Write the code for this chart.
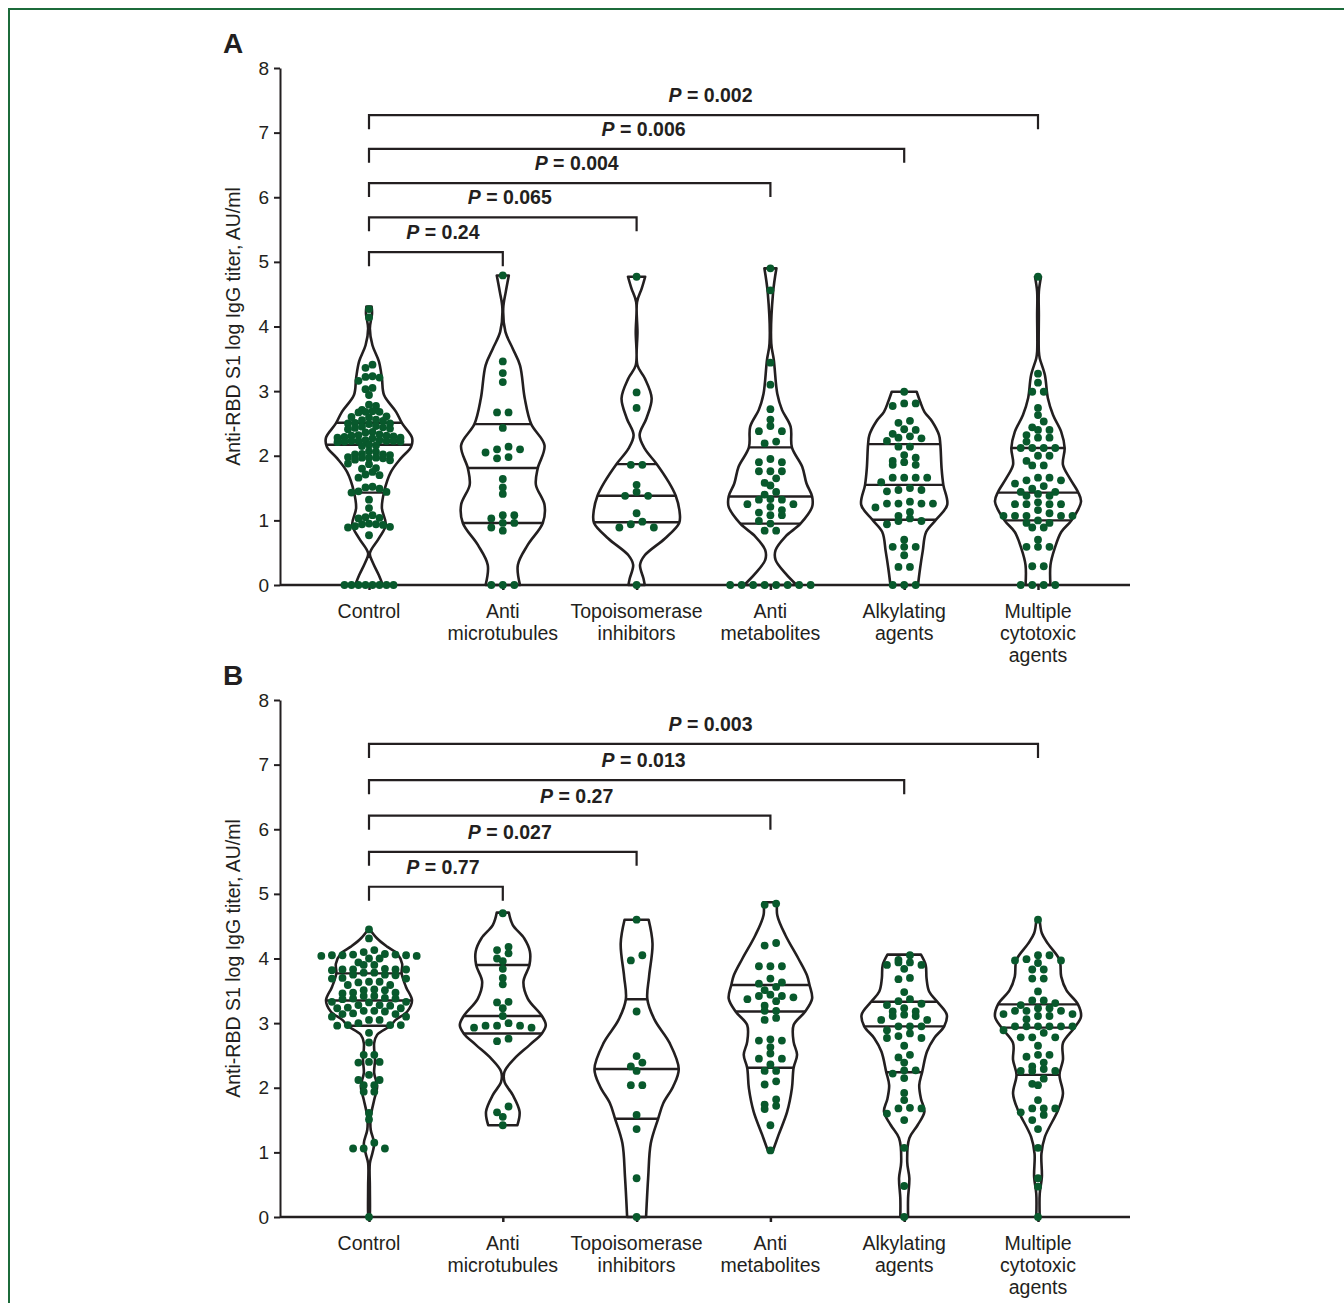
<!DOCTYPE html>
<html>
<head>
<meta charset="utf-8">
<script src="https://cdn.jsdelivr.net/npm/d3@7"></script>
<style>
  body { margin: 0; background: #fff; }
  text { font-family: 'Liberation Sans', Arial, sans-serif; fill: #231f20; }
</style>
</head>
<body>
<div id="chart"></div>
<script>
var width = 1344
var height = 1303

var groups = ['Control', 'Anti microtubules', 'Topoisomerase inhibitors', 'Anti metabolites', 'Alkylating agents', 'Multiple cytotoxic agents']
var groupLines = [['Control'], ['Anti', 'microtubules'], ['Topoisomerase', 'inhibitors'], ['Anti', 'metabolites'], ['Alkylating', 'agents'], ['Multiple', 'cytotoxic', 'agents']]
var yTicks = [0, 1, 2, 3, 4, 5, 6, 7, 8]
var yLabel = 'Anti-RBD S1 log IgG titer, AU/ml'

// ---- panel A: dot values per group ----
var dotsA = [
  [4.27, 4.14, 3.41, 3.36, 3.22, 3.21, 3.23, 3.16, 3.05, 3.03, 2.94, 2.79, 2.77, 2.71, 2.68, 2.67, 2.69, 2.68, 2.60, 2.61, 2.59, 2.55, 2.56, 2.54, 2.50, 2.51, 2.49, 2.50, 2.45, 2.46, 2.44, 2.42, 2.41, 2.43, 2.37, 2.36, 2.31, 2.32, 2.30, 2.31, 2.33, 2.28, 2.27, 2.29, 2.28, 2.23, 2.22, 2.24, 2.23, 2.21, 2.23, 2.24, 2.22, 2.23, 2.16, 2.15, 2.17, 2.06, 2.07, 2.02, 2.01, 2.03, 2.02, 1.97, 1.98, 1.96, 1.97, 1.97, 1.94, 1.93, 1.88, 1.87, 1.81, 1.80, 1.75, 1.70, 1.71, 1.66, 1.52, 1.51, 1.49, 1.44, 1.43, 1.45, 1.32, 1.19, 1.08, 1.04, 1.03, 1.05, 0.94, 0.93, 0.95, 0.94, 0.90, 0.89, 0.91, 0.77, 0, 0, 0, 0, 0, 0, 0, 0],
  [4.79, 3.46, 3.28, 3.14, 2.67, 2.67, 2.43, 2.14, 2.10, 2.10, 2.05, 1.98, 1.96, 1.64, 1.51, 1.41, 1.08, 1.08, 1.03, 0.96, 0.96, 0.89, 0.84, 0, 0, 0],
  [4.77, 2.98, 2.74, 1.86, 1.86, 1.55, 1.44, 1.38, 1.38, 1.11, 0.98, 0.94, 0.89, 0.89, 0],
  [4.90, 4.56, 3.44, 3.10, 2.72, 2.56, 2.46, 2.38, 2.38, 2.22, 2.19, 1.95, 1.90, 1.90, 1.76, 1.76, 1.76, 1.65, 1.58, 1.54, 1.44, 1.40, 1.33, 1.32, 1.32, 1.25, 1.25, 1.21, 1.16, 1.12, 1.08, 1.08, 0.99, 0.95, 0.84, 0.84, 0, 0, 0, 0, 0, 0, 0, 0],
  [2.99, 2.81, 2.81, 2.77, 2.54, 2.51, 2.41, 2.40, 2.34, 2.30, 2.27, 2.28, 2.23, 2.14, 2.14, 2.01, 1.97, 1.92, 1.90, 1.86, 1.86, 1.66, 1.66, 1.66, 1.66, 1.59, 1.50, 1.47, 1.47, 1.45, 1.29, 1.26, 1.26, 1.26, 1.26, 1.20, 1.13, 1.07, 1.03, 0.99, 0.99, 0.94, 0.70, 0.59, 0.59, 0.59, 0.46, 0.28, 0.28, 0, 0, 0],
  [4.77, 3.27, 3.13, 2.99, 2.99, 2.74, 2.63, 2.53, 2.44, 2.40, 2.40, 2.32, 2.28, 2.28, 2.22, 2.12, 2.12, 2.12, 2.12, 2.00, 2.00, 1.92, 1.85, 1.85, 1.66, 1.66, 1.62, 1.62, 1.57, 1.53, 1.49, 1.44, 1.44, 1.41, 1.38, 1.38, 1.28, 1.25, 1.25, 1.25, 1.25, 1.16, 1.11, 1.07, 1.07, 1.07, 1.07, 1.07, 1.00, 0.96, 0.96, 0.89, 0.89, 0.70, 0.59, 0.59, 0.59, 0.29, 0.29, 0, 0, 0, 0]
]

// violin outline: [value, relative density]
var outlineA = [
  [[4.31, 0.06], [4.2, 0.07], [3.97, 0.02], [3.71, 0.08], [3.46, 0.23], [3.2, 0.3], [2.94, 0.35], [2.68, 0.63], [2.5, 0.77], [2.28, 1.0], [2.14, 0.98], [1.96, 0.74], [1.75, 0.51], [1.44, 0.35], [1.19, 0.3], [0.93, 0.39], [0.72, 0.23], [0.49, 0.02], [0.36, 0.08], [0.15, 0.23], [0, 0.32]],
  [[4.79, 0.14], [4.54, 0.07], [4.28, 0.01], [3.92, 0.06], [3.66, 0.23], [3.4, 0.4], [2.89, 0.51], [2.49, 0.66], [2.16, 0.97], [1.8, 0.81], [1.55, 0.77], [1.24, 0.97], [0.96, 0.93], [0.62, 0.58], [0.31, 0.35], [0, 0.4]],
  [[4.77, 0.2], [4.59, 0.12], [4.38, 0.01], [3.92, 0.02], [3.4, 0.02], [3.2, 0.19], [2.89, 0.35], [2.58, 0.23], [2.32, 0.07], [2.11, 0.19], [1.87, 0.47], [1.6, 0.74], [1.38, 0.91], [1.13, 1.0], [0.96, 0.99], [0.72, 0.66], [0.46, 0.19], [0.31, 0.08], [0.1, 0.16], [0, 0.19]],
  [[4.9, 0.14], [4.51, 0.06], [3.74, 0.02], [3.48, 0.08], [2.96, 0.16], [2.71, 0.27], [2.45, 0.47], [2.13, 0.5], [1.83, 0.74], [1.57, 0.84], [1.37, 0.97], [1.21, 0.97], [0.95, 0.7], [0.75, 0.35], [0.54, 0.12], [0.39, 0.12], [0.18, 0.35], [0, 0.61]],
  [[2.99, 0.29], [2.84, 0.37], [2.68, 0.47], [2.53, 0.65], [2.32, 0.81], [2.18, 0.84], [1.8, 0.87], [1.55, 0.91], [1.24, 1.0], [1.01, 0.74], [0.82, 0.51], [0.52, 0.43], [0.26, 0.37], [0, 0.32]],
  [[4.77, 0.07], [4.54, 0.02], [4.18, 0.02], [3.61, 0.02], [3.51, 0.04], [3.25, 0.16], [2.89, 0.23], [2.63, 0.35], [2.37, 0.54], [2.12, 0.62], [1.86, 0.58], [1.65, 0.74], [1.44, 0.93], [1.29, 1.0], [1.0, 0.78], [0.82, 0.54], [0.57, 0.39], [0.31, 0.29], [0, 0.29]]
]

// Q1, median, Q3
var quartA = [[1.43, 2.17, 2.51], [0.96, 1.81, 2.49], [0.97, 1.38, 1.87], [0.95, 1.37, 2.13], [1.01, 1.55, 2.18], [1.00, 1.43, 2.12]]
var pValsA = ['0.24', '0.065', '0.004', '0.006', '0.002']
var bracketLevelsA = [5.15, 5.69, 6.22, 6.75, 7.27]

// ---- panel B ----
var dotsB = [
  [4.45, 4.31, 4.13, 4.10, 4.07, 4.05, 4.06, 4.04, 4.05, 4.05, 4.06, 4.04, 4.00, 4.00, 3.94, 3.90, 3.90, 3.83, 3.83, 3.84, 3.82, 3.83, 3.83, 3.78, 3.78, 3.75, 3.75, 3.74, 3.69, 3.69, 3.70, 3.64, 3.64, 3.63, 3.59, 3.59, 3.51, 3.51, 3.52, 3.47, 3.47, 3.46, 3.42, 3.42, 3.38, 3.38, 3.39, 3.37, 3.33, 3.33, 3.32, 3.28, 3.28, 3.27, 3.23, 3.23, 3.24, 3.19, 3.19, 3.18, 3.14, 3.14, 3.15, 3.10, 3.10, 3.05, 3.05, 3.00, 2.97, 2.97, 2.96, 2.97, 2.85, 2.70, 2.51, 2.51, 2.40, 2.40, 2.39, 2.20, 2.12, 2.12, 2.04, 2.04, 1.94, 1.94, 1.61, 1.51, 1.15, 1.06, 1.06, 1.06, 0],
  [4.70, 4.18, 4.13, 4.08, 4.00, 3.96, 3.84, 3.70, 3.60, 3.33, 3.32, 3.23, 3.11, 3.00, 2.96, 2.96, 2.96, 2.93, 2.93, 2.76, 2.72, 1.71, 1.62, 1.55, 1.42],
  [4.60, 4.05, 3.97, 3.18, 2.49, 2.39, 2.33, 2.26, 2.04, 2.04, 1.58, 1.36, 0.60, 0],
  [4.85, 4.83, 4.24, 4.20, 3.88, 3.88, 3.88, 3.69, 3.63, 3.61, 3.56, 3.51, 3.44, 3.42, 3.42, 3.40, 3.37, 3.34, 3.27, 3.19, 3.19, 3.08, 3.05, 2.75, 2.73, 2.73, 2.63, 2.53, 2.45, 2.45, 2.36, 2.26, 2.26, 2.10, 2.05, 1.82, 1.74, 1.72, 1.67, 1.42, 1.03],
  [4.05, 3.98, 3.94, 3.94, 3.90, 3.90, 3.84, 3.70, 3.68, 3.48, 3.37, 3.34, 3.30, 3.28, 3.23, 3.18, 3.18, 3.13, 3.11, 3.11, 3.05, 3.05, 2.95, 2.95, 2.95, 2.89, 2.84, 2.80, 2.77, 2.77, 2.65, 2.51, 2.47, 2.39, 2.27, 2.27, 2.22, 2.15, 1.92, 1.81, 1.69, 1.68, 1.68, 1.60, 1.50, 1.07, 0.48, 0],
  [4.60, 4.05, 4.05, 3.99, 3.97, 3.97, 3.93, 3.83, 3.83, 3.69, 3.69, 3.49, 3.35, 3.35, 3.31, 3.28, 3.23, 3.23, 3.19, 3.19, 3.19, 3.14, 3.14, 3.11, 3.11, 3.06, 2.95, 2.95, 2.95, 2.95, 2.95, 2.95, 2.89, 2.85, 2.78, 2.78, 2.78, 2.65, 2.51, 2.51, 2.48, 2.39, 2.33, 2.29, 2.26, 2.26, 2.26, 2.14, 2.06, 2.04, 1.81, 1.68, 1.68, 1.68, 1.62, 1.58, 1.50, 1.36, 1.07, 0.60, 0.47, 0]
]

var outlineB = [
  [[4.45, 0.02], [4.31, 0.19], [4.18, 0.43], [4.08, 0.65], [3.92, 0.77], [3.77, 0.76], [3.56, 0.86], [3.35, 1.0], [3.18, 0.89], [3.05, 0.62], [2.96, 0.5], [2.82, 0.19], [2.69, 0.12], [2.43, 0.14], [2.23, 0.12], [2.02, 0.19], [1.81, 0.12], [1.55, 0.04], [1.35, 0.04], [1.14, 0.12], [0.99, 0.08], [0.83, 0.02], [0.47, 0.02], [0.05, 0.02], [0, 0.01]],
  [[4.71, 0.14], [4.52, 0.23], [4.31, 0.5], [4.11, 0.63], [3.9, 0.62], [3.64, 0.48], [3.38, 0.58], [3.11, 0.91], [2.97, 1.0], [2.84, 0.91], [2.66, 0.62], [2.45, 0.27], [2.25, 0.04], [2.09, 0.04], [1.89, 0.23], [1.63, 0.39], [1.42, 0.34]],
  [[4.6, 0.28], [4.23, 0.37], [3.72, 0.29], [3.37, 0.25], [3.05, 0.42], [2.69, 0.77], [2.29, 0.98], [2.02, 0.85], [1.76, 0.62], [1.52, 0.5], [1.14, 0.33], [0.62, 0.27], [0, 0.22]],
  [[4.87, 0.16], [4.67, 0.16], [4.36, 0.35], [4.0, 0.65], [3.74, 0.85], [3.59, 0.91], [3.38, 0.97], [3.18, 0.81], [2.97, 0.54], [2.71, 0.54], [2.51, 0.62], [2.31, 0.54], [1.99, 0.5], [1.63, 0.39], [1.27, 0.19], [1.03, 0.06]],
  [[4.06, 0.39], [3.9, 0.5], [3.69, 0.52], [3.49, 0.58], [3.33, 0.77], [3.13, 0.99], [2.95, 0.93], [2.77, 0.7], [2.56, 0.53], [2.25, 0.42], [2.04, 0.35], [1.83, 0.39], [1.63, 0.47], [1.42, 0.31], [1.22, 0.12], [0.85, 0.07], [0.6, 0.12], [0.29, 0.09], [0, 0.09]],
  [[4.6, 0.04], [4.39, 0.09], [4.23, 0.23], [3.98, 0.5], [3.72, 0.54], [3.51, 0.66], [3.29, 0.93], [3.1, 1.0], [2.93, 0.85], [2.69, 0.58], [2.43, 0.58], [2.2, 0.5], [1.91, 0.58], [1.66, 0.47], [1.24, 0.16], [0.98, 0.08], [0.62, 0.09], [0.36, 0.04], [0, 0.04]]
]

var quartB = [[2.96, 3.35, 3.77], [2.84, 3.11, 3.90], [1.52, 2.29, 3.37], [2.31, 3.18, 3.59], [2.24, 2.95, 3.33], [2.20, 2.93, 3.29]]
var pValsB = ['0.77', '0.027', '0.27', '0.013', '0.003']
var bracketLevelsB = [5.11, 5.65, 6.21, 6.76, 7.32]

var ink = '#231f20'
var dotColor = '#08592c'

var svg = d3
  .select('#chart')
  .append('svg')
  .attr('width', width)
  .attr('height', height)

// green frame around the figure
svg
  .append('path')
  .attr('d', 'M9,' + height + 'V9H' + width)
  .attr('fill', 'none')
  .attr('stroke', '#1c6b3a')
  .attr('stroke-width', 2)

var axisLeftX = 280
var axisRightX = 1130

var xScale = d3
  .scalePoint()
  .domain(groups)
  .range([369, 1038])

var widthScale = d3
  .scaleLinear()
  .domain([0, 1])
  .range([0, 43])

function swarm(values, yScale, gap) {
  var sorted = values.slice().sort((a, b) => b - a)
  var rows = []
  var row = null
  sorted.forEach(v => {
    if (row && yScale(v) - yScale(row[0]) < 6) row.push(v)
    else {
      row = [v]
      rows.push(row)
    }
  })
  var out = []
  rows.forEach(r => {
    var n = r.length
    var slots = d3.range(n).map(j => (j - (n - 1) / 2) * gap)
    slots.sort((a, b) => Math.abs(a) - Math.abs(b) || b - a)
    r.forEach((v, i) => out.push({ value: v, dx: slots[i] }))
  })
  return out
}

function drawPanel(p) {
  var yScale = d3
    .scaleLinear()
    .domain([0, 8])
    .range([p.bottom, p.top])

  var g = svg.append('g')

  // y axis
  var yAxis = g
    .append('g')
    .attr('transform', 'translate(' + axisLeftX + ',0)')
    .call(
      d3
        .axisLeft(yScale)
        .tickValues(yTicks)
        .tickSize(6)
        .tickSizeOuter(0)
        .tickPadding(5)
    )
  yAxis.selectAll('text').attr('font-size', 19).attr('fill', ink).attr('font-family', "'Liberation Sans', Arial, sans-serif")
  yAxis.selectAll('path, line').attr('stroke', ink).attr('stroke-width', 2)

  // x axis
  var xAxis = g
    .append('g')
    .attr('transform', 'translate(0,' + p.bottom + ')')
    .call(
      d3
        .axisBottom(xScale)
        .tickSize(5)
        .tickSizeOuter(0)
        .tickFormat('')
    )
  xAxis.select('.domain').attr('d', 'M' + axisLeftX + ',0H' + axisRightX)
  xAxis.selectAll('path, line').attr('stroke', ink).attr('stroke-width', 2.5)

  groupLines.forEach((lines, i) => {
    var t = g
      .append('text')
      .attr('text-anchor', 'middle')
      .attr('font-size', 19.5)
      .attr('x', xScale(groups[i]))
      .attr('y', p.bottom + 33)
    lines.forEach((ln, k) => {
      t.append('tspan')
        .attr('x', xScale(groups[i]))
        .attr('dy', k === 0 ? 0 : 22)
        .text(ln)
    })
  })

  g.append('text')
    .attr('transform', 'translate(240,' + yScale(4) + ') rotate(-90)')
    .attr('text-anchor', 'middle')
    .attr('font-size', 19.5)
    .text(yLabel)

  g.append('text')
    .attr('x', 223)
    .attr('y', p.top - 15)
    .attr('font-size', 28)
    .attr('font-weight', 700)
    .text(p.letter)

  // violins
  p.outline.forEach((pts, i) => {
    var cx = xScale(groups[i])
    var area = d3
      .area()
      .curve(d3.curveCatmullRom)
      .y(d => yScale(d[0]))
      .x0(d => cx - widthScale(d[1]))
      .x1(d => cx + widthScale(d[1]))

    var clipId = 'clip-' + p.letter + i
    g.append('clipPath')
      .attr('id', clipId)
      .append('path')
      .attr('d', area(pts))

    g.append('path')
      .attr('class', 'violin')
      .attr('d', area(pts))
      .attr('fill', 'none')
      .attr('stroke', ink)
      .attr('stroke-width', 2.6)
      .attr('stroke-linejoin', 'round')

    g.selectAll('.q-' + p.letter + i)
      .data(p.quart[i])
      .enter()
      .append('line')
      .attr('class', 'q-' + p.letter + i)
      .attr('clip-path', 'url(#' + clipId + ')')
      .attr('x1', cx - 50)
      .attr('x2', cx + 50)
      .attr('y1', d => yScale(d))
      .attr('y2', d => yScale(d))
      .attr('stroke', ink)
      .attr('stroke-width', 2.4)
  })

  // dots
  p.dots.forEach((vals, i) => {
    var cx = xScale(groups[i])
    g.selectAll('.dot-' + p.letter + i)
      .data(swarm(vals, yScale, p.gaps[i]))
      .enter()
      .append('circle')
      .attr('class', 'dot-' + p.letter + i)
      .attr('cx', d => cx + d.dx)
      .attr('cy', d => yScale(d.value))
      .attr('r', 3.9)
      .attr('fill', dotColor)
  })

  // significance brackets
  p.pVals.forEach((pv, k) => {
    var x0 = xScale(groups[0])
    var x1 = xScale(groups[k + 1])
    var by = yScale(p.levels[k])
    g.append('path')
      .attr('d', 'M' + x0 + ',' + (by + 14) + 'V' + by + 'H' + x1 + 'V' + (by + 14))
      .attr('fill', 'none')
      .attr('stroke', ink)
      .attr('stroke-width', 2.2)
    var t = g
      .append('text')
      .attr('x', (x0 + x1) / 2 + 7)
      .attr('y', by - 13)
      .attr('text-anchor', 'middle')
      .attr('font-size', 19.5)
      .attr('font-weight', 700)
    t.append('tspan').attr('font-style', 'italic').text('P')
    t.append('tspan').text(' = ' + pv)
  })
}

drawPanel({
  letter: 'A',
  top: 68,
  bottom: 585,
  dots: dotsA,
  outline: outlineA,
  quart: quartA,
  pVals: pValsA,
  levels: bracketLevelsA,
  gaps: [7, 11.5, 11.5, 11.5, 11.5, 11.5]
})

drawPanel({
  letter: 'B',
  top: 700,
  bottom: 1217,
  dots: dotsB,
  outline: outlineB,
  quart: quartB,
  pVals: pValsB,
  levels: bracketLevelsB,
  gaps: [10.6, 11.5, 11.5, 11.5, 11.5, 11.5]
})
</script>
</body>
</html>
